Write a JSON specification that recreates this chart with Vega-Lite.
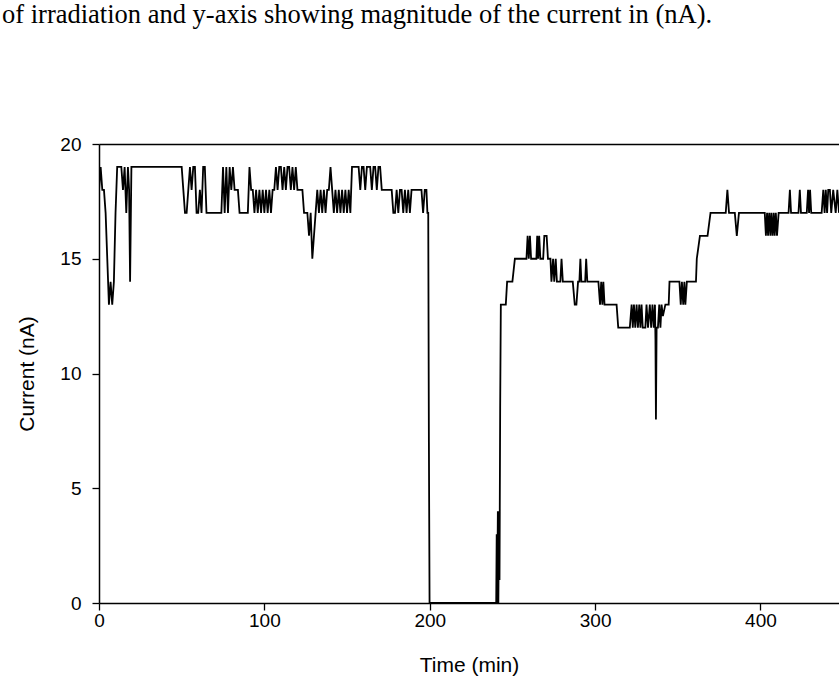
{
  "$schema": "https://vega.github.io/schema/vega-lite/v6.json",
  "autosize": "none",
  "width": 740,
  "height": 459,
  "padding": {"left": 99, "top": 144, "right": 0, "bottom": 76},
  "background": "white",
  "title": {
    "text": "of irradiation and y-axis showing magnitude of the current in (nA).",
    "font": "Liberation Serif",
    "fontSize": 26.5,
    "fontWeight": "normal",
    "color": "black",
    "anchor": "start",
    "frame": "group",
    "dx": -97,
    "offset": 86,
    "baseline": "alphabetic"
  },
  "config": {
    "view": {"stroke": null},
    "axis": {
      "grid": false,
      "domainColor": "black",
      "tickColor": "black",
      "labelColor": "black",
      "titleColor": "black",
      "labelFont": "Liberation Sans",
      "titleFont": "Liberation Sans",
      "labelFontSize": 19,
      "titleFontSize": 21,
      "titleFontWeight": "normal",
      "labelFlush": false,
      "tickSize": 7,
      "domainWidth": 1.5,
      "tickWidth": 1.3
    }
  },
  "data": {
    "values": [
      {"t": 0, "v": 18}, {"t": 1, "v": 19}, {"t": 2, "v": 18}, {"t": 3, "v": 18}, {"t": 4, "v": 17},
      {"t": 5, "v": 15}, {"t": 6, "v": 13}, {"t": 7, "v": 14}, {"t": 8, "v": 13}, {"t": 9, "v": 14},
      {"t": 10, "v": 17}, {"t": 11, "v": 19}, {"t": 13.5, "v": 19}, {"t": 14.5, "v": 18}, {"t": 15.5, "v": 19},
      {"t": 16.5, "v": 17}, {"t": 17.5, "v": 19}, {"t": 18.2, "v": 18}, {"t": 18.8, "v": 14}, {"t": 19.6, "v": 19},
      {"t": 50, "v": 19}, {"t": 51, "v": 18}, {"t": 52, "v": 17}, {"t": 53, "v": 17}, {"t": 54, "v": 18},
      {"t": 55, "v": 19}, {"t": 56, "v": 18}, {"t": 57, "v": 19}, {"t": 58, "v": 19}, {"t": 59, "v": 17},
      {"t": 60, "v": 17}, {"t": 61, "v": 18}, {"t": 62, "v": 17}, {"t": 63, "v": 19}, {"t": 64, "v": 19},
      {"t": 65, "v": 17}, {"t": 74, "v": 17}, {"t": 75, "v": 19}, {"t": 76, "v": 17}, {"t": 77, "v": 19},
      {"t": 78, "v": 17}, {"t": 79, "v": 19}, {"t": 80, "v": 18}, {"t": 81, "v": 19}, {"t": 82, "v": 18},
      {"t": 84, "v": 18}, {"t": 85, "v": 17}, {"t": 90, "v": 17}, {"t": 91, "v": 19}, {"t": 92, "v": 18},
      {"t": 93, "v": 18}, {"t": 94, "v": 17}, {"t": 95, "v": 18}, {"t": 96, "v": 17}, {"t": 97, "v": 18},
      {"t": 98, "v": 17}, {"t": 99, "v": 18}, {"t": 100, "v": 17}, {"t": 101, "v": 18}, {"t": 102, "v": 17},
      {"t": 103, "v": 18}, {"t": 104, "v": 17}, {"t": 105, "v": 18}, {"t": 106, "v": 18}, {"t": 107, "v": 19},
      {"t": 108, "v": 18}, {"t": 109, "v": 19}, {"t": 110, "v": 19}, {"t": 111, "v": 18}, {"t": 112, "v": 19},
      {"t": 113, "v": 18}, {"t": 114, "v": 19}, {"t": 115, "v": 19}, {"t": 116, "v": 18}, {"t": 117, "v": 19},
      {"t": 118, "v": 18}, {"t": 119, "v": 19}, {"t": 120, "v": 18}, {"t": 123, "v": 18}, {"t": 124, "v": 17},
      {"t": 126, "v": 17}, {"t": 127, "v": 16}, {"t": 128, "v": 17}, {"t": 129, "v": 15}, {"t": 130, "v": 16},
      {"t": 131, "v": 17}, {"t": 132, "v": 18}, {"t": 133, "v": 17}, {"t": 134, "v": 18}, {"t": 135, "v": 17},
      {"t": 136, "v": 18}, {"t": 137, "v": 17}, {"t": 138, "v": 18}, {"t": 139, "v": 18}, {"t": 140, "v": 19},
      {"t": 141, "v": 18}, {"t": 142, "v": 17}, {"t": 143, "v": 18}, {"t": 144, "v": 17}, {"t": 145, "v": 18},
      {"t": 146, "v": 17}, {"t": 147, "v": 18}, {"t": 148, "v": 17}, {"t": 149, "v": 18}, {"t": 150, "v": 17},
      {"t": 151, "v": 18}, {"t": 152, "v": 17}, {"t": 153, "v": 19}, {"t": 157, "v": 19}, {"t": 158, "v": 18},
      {"t": 159, "v": 19}, {"t": 160, "v": 19}, {"t": 161, "v": 18}, {"t": 162, "v": 19}, {"t": 164, "v": 19},
      {"t": 165, "v": 18}, {"t": 166, "v": 19}, {"t": 167, "v": 19}, {"t": 168, "v": 18}, {"t": 169, "v": 19},
      {"t": 170, "v": 19}, {"t": 171, "v": 18}, {"t": 177, "v": 18}, {"t": 178, "v": 17}, {"t": 179, "v": 17},
      {"t": 180, "v": 18}, {"t": 181, "v": 17}, {"t": 182, "v": 18}, {"t": 183, "v": 18}, {"t": 184, "v": 17},
      {"t": 185, "v": 18}, {"t": 186, "v": 17}, {"t": 187, "v": 18}, {"t": 188, "v": 17}, {"t": 189, "v": 18},
      {"t": 195, "v": 18}, {"t": 196, "v": 17}, {"t": 197, "v": 18}, {"t": 198, "v": 18}, {"t": 198.6, "v": 17},
      {"t": 199.1, "v": 17}, {"t": 199.5, "v": 7}, {"t": 199.9, "v": 0},
      {"t": 240.2, "v": 0}, {"t": 240.5, "v": 3}, {"t": 240.8, "v": 0}, {"t": 241.2, "v": 4}, {"t": 241.5, "v": 0},
      {"t": 241.9, "v": 4}, {"t": 242.2, "v": 1}, {"t": 242.6, "v": 8.5}, {"t": 243, "v": 13},
      {"t": 246, "v": 13}, {"t": 246.8, "v": 14}, {"t": 250, "v": 14}, {"t": 251.5, "v": 15}, {"t": 258.5, "v": 15},
      {"t": 259.2, "v": 16}, {"t": 259.9, "v": 15}, {"t": 260.6, "v": 16}, {"t": 261.3, "v": 15}, {"t": 264.5, "v": 15},
      {"t": 265, "v": 16}, {"t": 265.6, "v": 15}, {"t": 266.2, "v": 16}, {"t": 266.9, "v": 15}, {"t": 268.6, "v": 15},
      {"t": 269.3, "v": 16}, {"t": 270.7, "v": 16}, {"t": 271.5, "v": 15}, {"t": 273, "v": 15}, {"t": 273.6, "v": 14},
      {"t": 274.6, "v": 15}, {"t": 275.3, "v": 14}, {"t": 276.2, "v": 15}, {"t": 276.9, "v": 14}, {"t": 279, "v": 14},
      {"t": 279.7, "v": 15}, {"t": 280.5, "v": 14}, {"t": 286.5, "v": 14}, {"t": 287.7, "v": 13}, {"t": 288.7, "v": 13},
      {"t": 289.7, "v": 14}, {"t": 290.5, "v": 14}, {"t": 291.1, "v": 15}, {"t": 291.7, "v": 14}, {"t": 294, "v": 14},
      {"t": 294.6, "v": 15}, {"t": 295.3, "v": 14}, {"t": 302, "v": 14}, {"t": 303, "v": 13}, {"t": 303.7, "v": 14},
      {"t": 304.4, "v": 13}, {"t": 305, "v": 14}, {"t": 305.7, "v": 13}, {"t": 313, "v": 13}, {"t": 314, "v": 12},
      {"t": 321, "v": 12}, {"t": 322.1, "v": 13}, {"t": 322.8, "v": 12}, {"t": 323.5, "v": 13}, {"t": 324.3, "v": 12},
      {"t": 325.1, "v": 13}, {"t": 325.9, "v": 12}, {"t": 326.7, "v": 13}, {"t": 327.4, "v": 12}, {"t": 328.1, "v": 13},
      {"t": 328.8, "v": 12}, {"t": 330.4, "v": 12}, {"t": 331.1, "v": 13}, {"t": 332, "v": 12}, {"t": 333.1, "v": 13},
      {"t": 333.9, "v": 12}, {"t": 334.7, "v": 13}, {"t": 335.5, "v": 12}, {"t": 336.2, "v": 13}, {"t": 336.5, "v": 11.5},
      {"t": 336.8, "v": 8}, {"t": 337.2, "v": 12}, {"t": 338, "v": 12}, {"t": 338.8, "v": 13}, {"t": 339.5, "v": 12},
      {"t": 340.2, "v": 13}, {"t": 341, "v": 12.5}, {"t": 342.5, "v": 13}, {"t": 344.5, "v": 13}, {"t": 345, "v": 14},
      {"t": 351, "v": 14}, {"t": 351.8, "v": 13}, {"t": 352.5, "v": 14}, {"t": 353.3, "v": 13}, {"t": 354, "v": 14},
      {"t": 354.6, "v": 13}, {"t": 355.5, "v": 14}, {"t": 361, "v": 14}, {"t": 361.5, "v": 15}, {"t": 363.4, "v": 16},
      {"t": 368, "v": 16}, {"t": 369.8, "v": 17}, {"t": 379, "v": 17}, {"t": 380, "v": 18}, {"t": 381, "v": 17},
      {"t": 384.5, "v": 17}, {"t": 385.7, "v": 16}, {"t": 387, "v": 17}, {"t": 402.6, "v": 17}, {"t": 403.3, "v": 16},
      {"t": 404, "v": 17}, {"t": 404.6, "v": 16}, {"t": 405.3, "v": 17}, {"t": 406, "v": 16}, {"t": 406.6, "v": 17},
      {"t": 407.3, "v": 16}, {"t": 408, "v": 17}, {"t": 408.6, "v": 16}, {"t": 409.3, "v": 17}, {"t": 410, "v": 16},
      {"t": 411, "v": 17}, {"t": 417, "v": 17}, {"t": 417.8, "v": 18}, {"t": 418.5, "v": 17}, {"t": 423, "v": 17},
      {"t": 423.8, "v": 18}, {"t": 424.5, "v": 17}, {"t": 428, "v": 17}, {"t": 428.8, "v": 18}, {"t": 429.4, "v": 17},
      {"t": 430, "v": 18}, {"t": 430.7, "v": 17}, {"t": 437, "v": 17}, {"t": 438, "v": 18}, {"t": 438.8, "v": 17},
      {"t": 439.5, "v": 18}, {"t": 440.3, "v": 17}, {"t": 441, "v": 18}, {"t": 442, "v": 18}, {"t": 442.8, "v": 17},
      {"t": 444, "v": 18}, {"t": 445.5, "v": 17}, {"t": 446.5, "v": 18}, {"t": 447.5, "v": 17}
    ]
  },
  "layer": [
    {
      "mark": {"type": "line", "color": "black", "strokeWidth": 1.8, "clip": true},
      "encoding": {
        "x": {
          "field": "t",
          "type": "quantitative",
          "scale": {"domain": [0, 447.5], "nice": false, "zero": false},
          "axis": {"orient": "bottom", "values": [0, 100, 200, 300, 400], "title": "Time (min)", "labelPadding": 1, "titlePadding": 24}
        },
        "y": {
          "field": "v",
          "type": "quantitative",
          "scale": {"domain": [0, 20], "nice": false},
          "axis": {"values": [0, 5, 10, 15, 20], "title": "Current (nA)", "labelPadding": 11, "titlePadding": 22}
        }
      }
    },
    {
      "mark": {"type": "line", "opacity": 0},
      "encoding": {
        "x": {
          "field": "t",
          "type": "quantitative",
          "axis": {"orient": "top", "labels": false, "ticks": false, "title": null, "domainColor": "black"}
        },
        "y": {"field": "v", "type": "quantitative"}
      }
    }
  ],
  "resolve": {"axis": {"x": "independent"}}
}
